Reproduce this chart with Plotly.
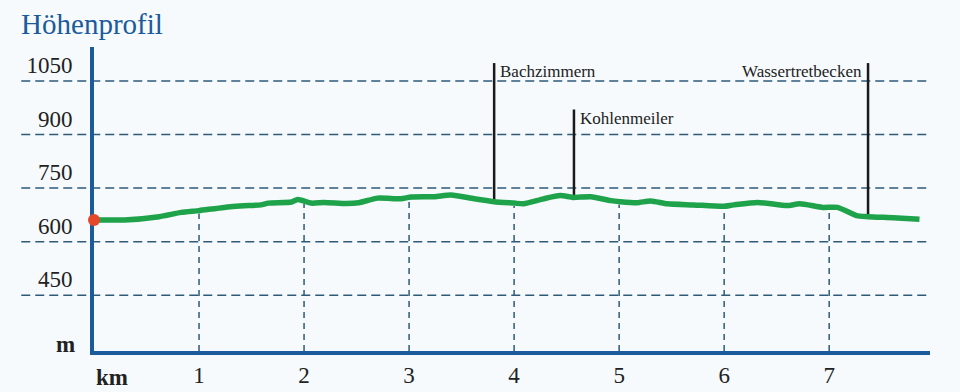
import numpy as np
import plotly.graph_objects as go

# ---- data ----
km = [0, 0.29, 0.62, 0.83, 1.0, 1.24, 1.47, 1.59, 1.66, 1.88, 1.94, 2.07, 2.19, 2.40,
      2.52, 2.70, 2.92, 3.02, 3.24, 3.40, 3.62, 3.81, 4.0, 4.09, 4.28, 4.44, 4.56, 4.73,
      4.92, 5.01, 5.17, 5.30, 5.46, 5.71, 5.99, 6.09, 6.32, 6.60, 6.72, 6.94, 7.08, 7.26,
      7.37, 7.61, 7.86]
elev = [661, 661, 670, 682, 687, 696, 701, 703, 708, 711, 718, 708, 710, 707,
        709, 722, 720, 725, 726, 731, 720, 712, 708, 706, 720, 729, 724, 726,
        715, 712, 709, 714, 706, 703, 699, 703, 710, 701, 706, 696, 696, 673,
        670, 667, 663]

poi_names = ["Bachzimmern", "Kohlenmeiler", "Wassertretbecken"]
poi_km = [3.81, 4.57, 7.37]
poi_top = [1100, 970, 1100]
poi_side = ["left", "left", "right"]

y_ticks = [450, 600, 750, 900, 1050]
x_ticks = [1, 2, 3, 4, 5, 6, 7]

# ---- style ----
BG = "#f6fafd"
AXIS = "#1b5b9c"
GRID = "#2e5a78"
GREEN = "#1ea34b"
RED = "#e5472a"
TXT = "#222222"
FONT = "Liberation Serif"

Y_MIN, Y_MAX = 294, 1145
X_MIN, X_MAX = 0, 7.96

fig = go.Figure()

# km drop lines (from profile to the axis)
dx, dy = [], []
for k in x_ticks:
    dx += [k, k, None]
    dy += [Y_MIN, float(np.interp(k, km, elev)) - 8, None]
fig.add_trace(go.Scatter(x=dx, y=dy, mode="lines", hoverinfo="skip",
                         line=dict(color=GRID, width=1.5, dash="6px,5px")))

# POI poles
for name, k, top in zip(poi_names, poi_km, poi_top):
    base = float(np.interp(k, km, elev))
    fig.add_trace(go.Scatter(x=[k, k], y=[base, top], mode="lines",
                             line=dict(color="#1a1a1a", width=2.5), hoverinfo="skip"))

# profile
fig.add_trace(go.Scatter(x=km, y=elev, mode="lines",
                         line=dict(color=GREEN, width=5.5, shape="spline", smoothing=0.6)))
fig.add_trace(go.Scatter(x=[km[0]], y=[elev[0]], mode="markers",
                         marker=dict(color=RED, size=12), cliponaxis=False))

# horizontal dashed grid lines, extending left of the axis
for v in y_ticks:
    fig.add_shape(type="line", xref="paper", yref="y", x0=-0.087, x1=1, y0=v, y1=v,
                  line=dict(color=GRID, width=1.5, dash="9px,5px"), layer="below")

# POI labels
for name, k, top, side in zip(poi_names, poi_km, poi_top, poi_side):
    fig.add_annotation(x=k, y=top, text=name, showarrow=False,
                       xanchor=side, yanchor="top", yshift=3,
                       xshift=4 if side == "left" else -4,
                       font=dict(family=FONT, size=17, color=TXT))

# axis unit labels
fig.add_annotation(xref="paper", yref="paper", x=-0.02, y=0, yshift=-8, text="<b>m</b>",
                   showarrow=False, xanchor="right", yanchor="bottom",
                   font=dict(family=FONT, size=23, color=TXT))
fig.add_annotation(xref="paper", yref="paper", x=0.0, y=0, yshift=-26, text="<b>km</b>",
                   showarrow=False, xanchor="left", yanchor="middle",
                   font=dict(family=FONT, size=23, color=TXT))

fig.update_layout(
    width=960, height=392,
    margin=dict(l=94, r=30, t=47, b=41),
    paper_bgcolor=BG, plot_bgcolor=BG,
    showlegend=False,
    title=dict(text="Höhenprofil", x=0.022, xanchor="left", y=0.94, yanchor="middle",
               font=dict(family=FONT, size=29, color=AXIS)),
    xaxis=dict(range=[X_MIN, X_MAX], showgrid=False, zeroline=False, automargin=False,
               showline=True, linecolor=AXIS, linewidth=4, layer="below traces",
               tickvals=x_ticks, ticktext=[str(t) for t in x_ticks], ticks="",
               ticklabelstandoff=0,
               tickfont=dict(family=FONT, size=23, color=TXT)),
    yaxis=dict(range=[Y_MIN, Y_MAX], showgrid=False, zeroline=False, automargin=False,
               showline=True, linecolor=AXIS, linewidth=4, layer="below traces",
               tickvals=y_ticks, ticktext=[str(t) for t in y_ticks], ticks="",
               ticklabelstandoff=13, ticklabelshift=-16,
               tickfont=dict(family=FONT, size=23, color=TXT)),
)

fig.write_html("out.html", config={"displayModeBar": False},
               post_script="document.body.style.margin='0';document.body.style.overflow='hidden';")
